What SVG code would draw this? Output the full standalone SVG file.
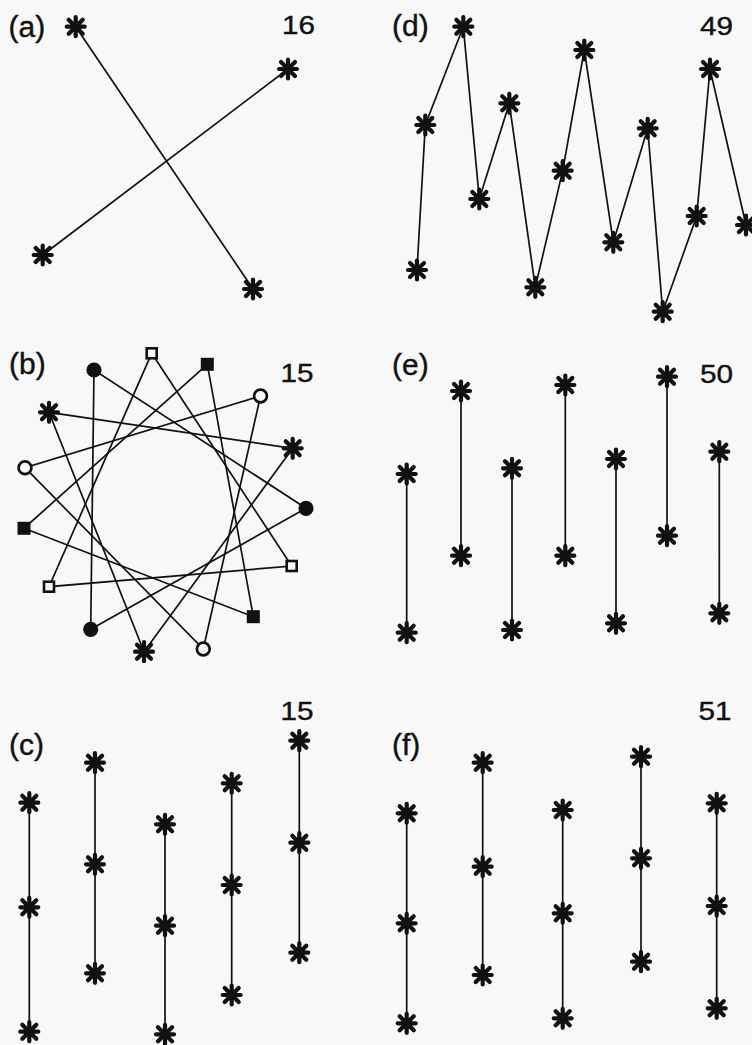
<svg xmlns="http://www.w3.org/2000/svg" xmlns:xlink="http://www.w3.org/1999/xlink" width="752" height="1045" viewBox="0 0 752 1045">
<style>
.bg{fill:#f8f8f8}
.ln{stroke:#111;stroke-width:1.7;fill:none;stroke-linecap:round}
.lb{font-family:"Liberation Sans",Arial,sans-serif;font-size:30px;fill:#111;stroke:#111;stroke-width:0.4}
.nm{font-family:"Liberation Sans",Arial,sans-serif;font-size:26px;fill:#111;stroke:#111;stroke-width:0.4}
.os{fill:#f8f8f8;stroke:#111;stroke-width:2.6}
.fs{fill:#111}
.oc{fill:#f8f8f8;stroke:#111;stroke-width:2.7}
.fc{fill:#111}
</style>
<defs>
<g id="ast">
<path d="M0,-9.5V9.5M-9,0H9M-7,-7L7,7M-7,7L7,-7" stroke="#111" stroke-width="4.2" stroke-linecap="round" fill="none"/>
<circle r="5" fill="#111"/>
</g>
<rect id="osq" class="os" x="-5" y="-5" width="10" height="10"/>
<rect id="fsq" class="fs" x="-6.5" y="-6.5" width="13" height="13"/>
<circle id="ocir" class="oc" r="6.4"/>
<circle id="fcir" class="fc" r="7.6"/>
</defs>
<rect class="bg" x="0" y="0" width="752" height="1045"/>

<g id="labels">
<text class="lb" x="8.5" y="36.5">(a)</text>
<text class="nm" x="282" y="33.5" textLength="33" lengthAdjust="spacingAndGlyphs">16</text>
<text class="lb" x="392" y="35.5">(d)</text>
<text class="nm" x="700" y="35" textLength="33" lengthAdjust="spacingAndGlyphs">49</text>
<text class="lb" x="9" y="373.5">(b)</text>
<text class="nm" x="280.5" y="381.5" textLength="33" lengthAdjust="spacingAndGlyphs">15</text>
<text class="lb" x="392" y="375">(e)</text>
<text class="nm" x="700" y="383" textLength="33" lengthAdjust="spacingAndGlyphs">50</text>
<text class="lb" x="9" y="755">(c)</text>
<text class="nm" x="280.5" y="720" textLength="33" lengthAdjust="spacingAndGlyphs">15</text>
<text class="lb" x="392" y="755">(f)</text>
<text class="nm" x="698.5" y="720" textLength="33" lengthAdjust="spacingAndGlyphs">51</text>
</g>

<g id="connectors">
<!-- (a) -->
<path class="ln" d="M75.7,26.7L253,289M288,69L42.7,255"/>
<!-- (d) -->
<polyline class="ln" points="417,270 425.3,125 463.3,26.7 479.3,199 509.3,103.3 535.3,287.3 562.7,170.7 584.3,50 613.3,242.3 647.7,128.3 662.7,311.7 696.7,216 710,69 746,225"/>
<!-- (b) -->
<polygon class="ln" points="151.7,353.3 291.7,566 49,586.7"/>
<polygon class="ln" points="207.3,364.3 253.3,616.7 24,528.3"/>
<polygon class="ln" points="260.5,396 203.3,649 25,467.7"/>
<polygon class="ln" points="292.7,448.3 144,651.7 49,412.3"/>
<polygon class="ln" points="306,508.3 90.7,629.3 94,370"/>
<!-- (e) -->
<path class="ln" d="M406.7,474V632.7M461,391V555.7M512,468.3V630M565.3,385V555.7M616,459V623.3M667,376.7V535.7M719.3,451.7V613.3"/>
<!-- (c) -->
<path class="ln" d="M29.3,802.7V1031.7M95,762.7V973.3M165,824.3V1034.3M231.7,783.3V995M299.3,740.7V952.7"/>
<!-- (f) -->
<path class="ln" d="M406.7,813.3V1023.3M482.7,762.7V975M562.7,810V1018.3M641,756.7V961.7M716.7,803.3V1008.3"/>
</g>

<!-- (a) nodes -->
<g id="a1"><use xlink:href="#ast" x="75.7" y="26.7"/></g>
<g id="a2"><use xlink:href="#ast" x="288" y="69"/></g>
<g id="a3"><use xlink:href="#ast" x="42.7" y="255"/></g>
<g id="a4"><use xlink:href="#ast" x="253" y="289"/></g>

<!-- (d) nodes -->
<g id="d1"><use xlink:href="#ast" x="417" y="270"/></g>
<g id="d2"><use xlink:href="#ast" x="425.3" y="125"/></g>
<g id="d3"><use xlink:href="#ast" x="463.3" y="26.7"/></g>
<g id="d4"><use xlink:href="#ast" x="479.3" y="199"/></g>
<g id="d5"><use xlink:href="#ast" x="509.3" y="103.3"/></g>
<g id="d6"><use xlink:href="#ast" x="535.3" y="287.3"/></g>
<g id="d7"><use xlink:href="#ast" x="562.7" y="170.7"/></g>
<g id="d8"><use xlink:href="#ast" x="584.3" y="50"/></g>
<g id="d9"><use xlink:href="#ast" x="613.3" y="242.3"/></g>
<g id="d10"><use xlink:href="#ast" x="647.7" y="128.3"/></g>
<g id="d11"><use xlink:href="#ast" x="662.7" y="311.7"/></g>
<g id="d12"><use xlink:href="#ast" x="696.7" y="216"/></g>
<g id="d13"><use xlink:href="#ast" x="710" y="69"/></g>
<g id="d14"><use xlink:href="#ast" x="746" y="225"/></g>

<!-- (b) nodes -->
<g id="b0"><use xlink:href="#osq" x="151.7" y="353.3"/></g>
<g id="b1"><use xlink:href="#fsq" x="207.3" y="364.3"/></g>
<g id="b2"><use xlink:href="#ocir" x="260.5" y="396"/></g>
<g id="b3"><use xlink:href="#ast" x="292.7" y="448.3"/></g>
<g id="b4"><use xlink:href="#fcir" x="306" y="508.3"/></g>
<g id="b5"><use xlink:href="#osq" x="291.7" y="566"/></g>
<g id="b6"><use xlink:href="#fsq" x="253.3" y="616.7"/></g>
<g id="b7"><use xlink:href="#ocir" x="203.3" y="649"/></g>
<g id="b8"><use xlink:href="#ast" x="144" y="651.7"/></g>
<g id="b9"><use xlink:href="#fcir" x="90.7" y="629.3"/></g>
<g id="b10"><use xlink:href="#osq" x="49" y="586.7"/></g>
<g id="b11"><use xlink:href="#fsq" x="24" y="528.3"/></g>
<g id="b12"><use xlink:href="#ocir" x="25" y="467.7"/></g>
<g id="b13"><use xlink:href="#ast" x="49" y="412.3"/></g>
<g id="b14"><use xlink:href="#fcir" x="94" y="370"/></g>

<!-- (e) nodes -->
<g id="e1t"><use xlink:href="#ast" x="406.7" y="474"/></g>
<g id="e1b"><use xlink:href="#ast" x="406.7" y="632.7"/></g>
<g id="e2t"><use xlink:href="#ast" x="461" y="391"/></g>
<g id="e2b"><use xlink:href="#ast" x="461" y="555.7"/></g>
<g id="e3t"><use xlink:href="#ast" x="512" y="468.3"/></g>
<g id="e3b"><use xlink:href="#ast" x="512" y="630"/></g>
<g id="e4t"><use xlink:href="#ast" x="565.3" y="385"/></g>
<g id="e4b"><use xlink:href="#ast" x="565.3" y="555.7"/></g>
<g id="e5t"><use xlink:href="#ast" x="616" y="459"/></g>
<g id="e5b"><use xlink:href="#ast" x="616" y="623.3"/></g>
<g id="e6t"><use xlink:href="#ast" x="667" y="376.7"/></g>
<g id="e6b"><use xlink:href="#ast" x="667" y="535.7"/></g>
<g id="e7t"><use xlink:href="#ast" x="719.3" y="451.7"/></g>
<g id="e7b"><use xlink:href="#ast" x="719.3" y="613.3"/></g>

<!-- (c) nodes -->
<g id="c1a"><use xlink:href="#ast" x="29.3" y="802.7"/></g>
<g id="c1b"><use xlink:href="#ast" x="29.3" y="907.3"/></g>
<g id="c1c"><use xlink:href="#ast" x="29.3" y="1031.7"/></g>
<g id="c2a"><use xlink:href="#ast" x="95" y="762.7"/></g>
<g id="c2b"><use xlink:href="#ast" x="95" y="864.3"/></g>
<g id="c2c"><use xlink:href="#ast" x="95" y="973.3"/></g>
<g id="c3a"><use xlink:href="#ast" x="165" y="824.3"/></g>
<g id="c3b"><use xlink:href="#ast" x="165" y="925.7"/></g>
<g id="c3c"><use xlink:href="#ast" x="165" y="1034.3"/></g>
<g id="c4a"><use xlink:href="#ast" x="231.7" y="783.3"/></g>
<g id="c4b"><use xlink:href="#ast" x="231.7" y="885"/></g>
<g id="c4c"><use xlink:href="#ast" x="231.7" y="995"/></g>
<g id="c5a"><use xlink:href="#ast" x="299.3" y="740.7"/></g>
<g id="c5b"><use xlink:href="#ast" x="299.3" y="842.7"/></g>
<g id="c5c"><use xlink:href="#ast" x="299.3" y="952.7"/></g>

<!-- (f) nodes -->
<g id="f1a"><use xlink:href="#ast" x="406.7" y="813.3"/></g>
<g id="f1b"><use xlink:href="#ast" x="406.7" y="923.3"/></g>
<g id="f1c"><use xlink:href="#ast" x="406.7" y="1023.3"/></g>
<g id="f2a"><use xlink:href="#ast" x="482.7" y="762.7"/></g>
<g id="f2b"><use xlink:href="#ast" x="482.7" y="866.7"/></g>
<g id="f2c"><use xlink:href="#ast" x="482.7" y="975"/></g>
<g id="f3a"><use xlink:href="#ast" x="562.7" y="810"/></g>
<g id="f3b"><use xlink:href="#ast" x="562.7" y="913.3"/></g>
<g id="f3c"><use xlink:href="#ast" x="562.7" y="1018.3"/></g>
<g id="f4a"><use xlink:href="#ast" x="641" y="756.7"/></g>
<g id="f4b"><use xlink:href="#ast" x="641" y="858.3"/></g>
<g id="f4c"><use xlink:href="#ast" x="641" y="961.7"/></g>
<g id="f5a"><use xlink:href="#ast" x="716.7" y="803.3"/></g>
<g id="f5b"><use xlink:href="#ast" x="716.7" y="906"/></g>
<g id="f5c"><use xlink:href="#ast" x="716.7" y="1008.3"/></g>
</svg>
